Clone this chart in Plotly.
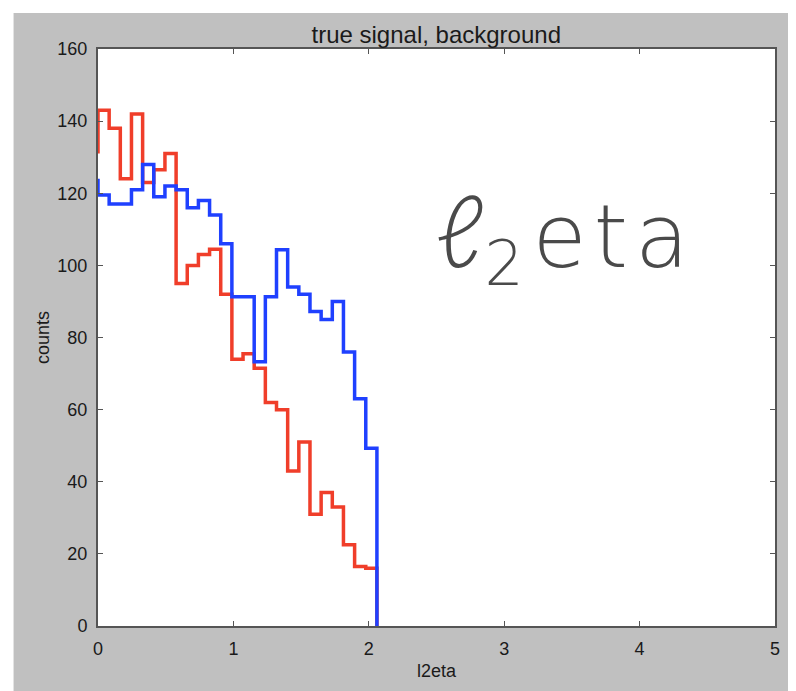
import numpy as np
import plotly.graph_objects as go

# ---- data ----
bin_lo, bin_hi, n_bins = 0.0, 2.06, 25
red_counts = [143, 138, 124, 142, 123, 126.5, 131, 95, 100, 103, 104.5, 92, 74,
              75.5, 71.5, 62, 60, 43, 51, 31, 37, 33, 22.5, 16.5, 16]
blue_counts = [119.5, 117, 117, 121, 128, 119, 122, 121, 116, 118, 114, 106, 91.3,
               91.3, 73.3, 91.3, 104.3, 94, 92, 87.2, 85, 90, 76, 63, 49.3]
red_start = 131
blue_start = 124
x_ticks = [0, 1, 2, 3, 4, 5]
y_ticks = [0, 20, 40, 60, 80, 100, 120, 140, 160]

edges = np.linspace(bin_lo, bin_hi, n_bins + 1)


def step_xy(counts, start):
    xs, ys = [edges[0]], [start]
    for i, c in enumerate(counts):
        xs += [edges[i], edges[i + 1]]
        ys += [c, c]
    xs.append(edges[-1])
    ys.append(0)
    return xs, ys


# the page body adds an 8px offset; figure coordinates below compensate for it
W, H = 796, 691
L, R, T, B = 89.5, 29, 41, 73
PW, PH = W - L - R, H - T - B

fig = go.Figure()
rx, ry = step_xy(red_counts, red_start)
bx, by = step_xy(blue_counts, blue_start)
fig.add_trace(go.Scatter(x=rx, y=ry, mode="lines", line=dict(color="#f03e2a", width=3.5),
                         showlegend=False))
fig.add_trace(go.Scatter(x=bx, y=by, mode="lines", line=dict(color="#1f40ff", width=3.5),
                         showlegend=False))

tick_font = dict(family="Liberation Sans", size=18, color="#1a1a1a")
axis_common = dict(showgrid=False, zeroline=False, showline=True, linecolor="#555555",
                   linewidth=2, mirror="ticks", ticks="inside", ticklen=5, tickwidth=1,
                   tickcolor="#555555", tickfont=tick_font)

fig.update_xaxes(range=[0, 5], tickvals=x_ticks, ticktext=[str(v) for v in x_ticks],
                 ticklabelstandoff=5,
                 title=dict(text="l2eta", font=tick_font, standoff=7),
                 **axis_common)
fig.update_yaxes(range=[0, 160], tickvals=y_ticks, ticktext=[str(v) for v in y_ticks],
                 ticklabelstandoff=5,
                 title=dict(text="counts", font=tick_font, standoff=3),
                 **axis_common)


def px_x(fx):
    return (fx - L) / PW


def px_y(fy):
    return (H - B - fy) / PH


label_text = ('<span style="font-family:Lato;font-weight:300;font-size:100px">ℓ</span>'
              '<sub>2</sub>\u200a'
              '<span style="letter-spacing:7px">eta</span>')

fig.update_layout(
    width=W, height=H,
    margin=dict(l=L, r=R, t=T, b=B),
    paper_bgcolor="#c0c0c0",
    plot_bgcolor="white",
    title=dict(text="true signal, background", x=(L + PW / 2) / W, xanchor="center",
               y=1 - 27 / H, yanchor="middle", yref="container",
               font=dict(family="Liberation Sans", size=24, color="#1a1a1a")),
    shapes=[
        dict(type="rect", xref="paper", yref="paper", layer="above",
             x0=px_x(-2), x1=px_x(W + 2), y0=px_y(5), y1=px_y(-2),
             fillcolor="white", line=dict(width=0)),
        dict(type="rect", xref="paper", yref="paper", layer="above",
             x0=px_x(-2), x1=px_x(5), y0=px_y(H + 2), y1=px_y(-2),
             fillcolor="white", line=dict(width=0)),
    ],
    annotations=[
        dict(text=label_text, xref="paper", yref="paper",
             x=px_x(557), y=px_y(226),
             xanchor="center", yanchor="middle", showarrow=False,
             font=dict(family="DejaVu Sans", size=88, color="#4a4a4a", weight=200)),
    ],
)

fig.write_html("out.html")
